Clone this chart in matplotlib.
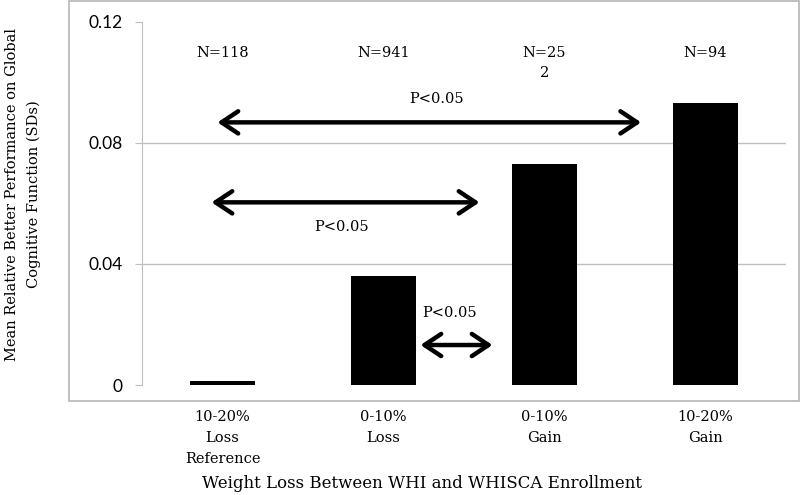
import matplotlib
matplotlib.use("Agg")
import matplotlib.pyplot as plt
from matplotlib.patches import Rectangle

categories = ["10-20%\nLoss\nReference", "0-10%\nLoss", "0-10%\nGain", "10-20%\nGain"]
values = [0.0012, 0.036, 0.073, 0.093]
n_labels = ["N=118", "N=941", "N=25\n2", "N=94"]
yticks = [0, 0.04, 0.08, 0.12]
ytick_labels = ["0", "0.04", "0.08", "0.12"]
# comparisons: (x start, x end, y, label x, label y)
arrows = [(-0.031, 2.60, 0.0867, 1.33, 0.0945),
          (-0.068, 1.596, 0.0603, 0.739, 0.0521),
          (1.23, 1.677, 0.0132, 1.41, 0.0237)]
arrow_label = "P<0.05"

serif = "DejaVu Serif"
fig = plt.figure(figsize=(8, 4.95), dpi=100)
ax = fig.add_axes([142/800, 1-385/495, (786-142)/800, (385-21.5)/495])

# outer frame
fig.patches.append(Rectangle((69/800, 1-401/495), 730/800, 400/495,
                             transform=fig.transFigure, fill=False,
                             edgecolor="#b5b5b5", lw=1.2, zorder=0))

x = list(range(len(categories)))
for yv in [0.04, 0.08]:
    ax.axhline(yv, color="#bfbfbf", lw=1.0, zorder=0)
ax.bar(x, values, width=0.4, color="black", zorder=2)

ax.set_xlim(-0.5, 3.5)
ax.set_ylim(0, 0.12)
ax.set_yticks(yticks)
ax.set_yticklabels(ytick_labels, fontfamily="Lato", fontsize=12.5)
ax.tick_params(axis="y", length=5, color="#bfbfbf", pad=9)
ax.set_xticks(x)
ax.set_xticklabels(categories, fontfamily=serif, fontsize=10.5, linespacing=1.62)
ax.tick_params(axis="x", length=0, pad=18)
for s in ["top", "right", "bottom"]:
    ax.spines[s].set_visible(False)
ax.spines["left"].set_color("#bfbfbf")

for xi, lab in zip(x, n_labels):
    ax.text(xi, 0.1118, lab, ha="center", va="top", fontfamily=serif,
            fontsize=10.5, linespacing=1.55)

for x0, x1, yv, tx, ty in arrows:
    ax.annotate("", xy=(x1, yv), xytext=(x0, yv),
                arrowprops=dict(arrowstyle="<->,head_length=0.6,head_width=0.4",
                                lw=3.2, color="black", shrinkA=0, shrinkB=0,
                                mutation_scale=20, capstyle="round",
                                joinstyle="round"))
    ax.text(tx, ty, arrow_label, ha="center", va="center", fontfamily=serif,
            fontsize=10.5)

fig.text(422/800, 1-483/495, "Weight Loss Between WHI and WHISCA Enrollment",
         ha="center", va="center", fontfamily=serif, fontsize=12)
fig.text(23/800, 1-194/495,
         "Mean Relative Better Performance on Global\nCognitive Function (SDs)",
         ha="center", va="center", rotation=90, fontfamily=serif, fontsize=10.5,
         multialignment="center", linespacing=1.65)

fig.savefig("out.png", dpi=100)
